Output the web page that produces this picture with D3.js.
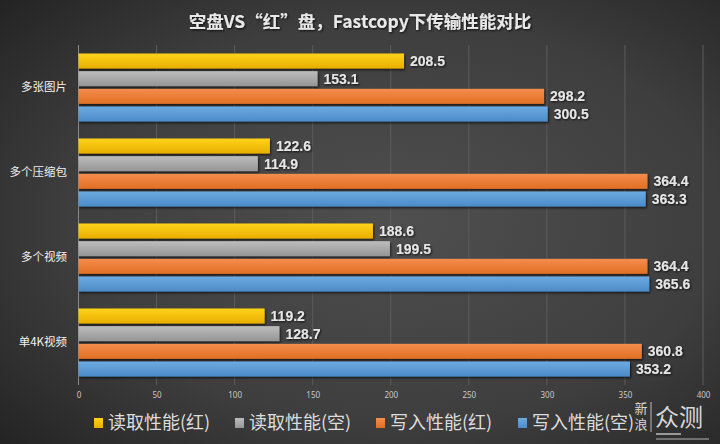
<!DOCTYPE html>
<html><head><meta charset="utf-8">
<script src="https://cdn.jsdelivr.net/npm/d3@7"></script>
<style>body{margin:0;background:#333;}svg{display:block;}</style>
</head><body>
<svg id="c" width="720" height="444"></svg>
<script>
const title = "空盘VS“红”盘，Fastcopy下传输性能对比";
const categories = ["多张图片", "多个压缩包", "多个视频", "单4K视频"];
const seriesNames = ["读取性能(红)", "读取性能(空)", "写入性能(红)", "写入性能(空)"];
const readRed = [208.5, 122.6, 188.6, 119.2];
const readEmpty = [153.1, 114.9, 199.5, 128.7];
const writeRed = [298.2, 364.4, 364.4, 360.8];
const writeEmpty = [300.5, 363.3, 365.6, 353.2];
const tickValues = [0, 50, 100, 150, 200, 250, 300, 350, 400];
const colors = ["#FFC000", "#A5A5A5", "#ED7D31", "#5B9BD5"];
const lightColors = ["#FFD31A", "#BDBDBD", "#F58D4E", "#6EAAE0"];
const darkColors = ["#E8AE00", "#959595", "#E06F22", "#4A8BC9"];

const series = [readRed, readEmpty, writeRed, writeEmpty];
const svg = d3.select("#c");
const W = 720, H = 444;
const defs = svg.append("defs");
const bg = defs.append("radialGradient").attr("id","bg").attr("cx","0.55").attr("cy","0.5").attr("r","0.75");
bg.append("stop").attr("offset","0").attr("stop-color","#4f4f4f");
bg.append("stop").attr("offset","0.6").attr("stop-color","#3e3e3e");
bg.append("stop").attr("offset","1").attr("stop-color","#232323");
svg.append("rect").attr("width",W).attr("height",H).attr("fill","url(#bg)");

colors.forEach((c,i)=>{
  const g = defs.append("linearGradient").attr("id","g"+i).attr("x1",0).attr("y1",0).attr("x2",0).attr("y2",1);
  g.append("stop").attr("offset","0").attr("stop-color",lightColors[i]);
  g.append("stop").attr("offset","1").attr("stop-color",darkColors[i]);
});
const sh = defs.append("filter").attr("id","sh").attr("x","-5%").attr("y","-30%").attr("width","110%").attr("height","170%");
sh.append("feDropShadow").attr("dx",1).attr("dy",1.5).attr("stdDeviation",0.8).attr("flood-color","#000").attr("flood-opacity",0.7);
const tsh = defs.append("filter").attr("id","tsh");
tsh.append("feDropShadow").attr("dx",1).attr("dy",1).attr("stdDeviation",0.8).attr("flood-color","#000").attr("flood-opacity",0.8);

const x = d3.scaleLinear().domain([0,400]).range([78.5, 703]);
const y = d3.scaleBand().domain(categories).range([45, 385]).paddingInner(0.2).paddingOuter(0.1);
const yi = d3.scaleBand().domain(d3.range(4)).range([0, y.bandwidth()]).paddingInner(0.15);

// grid
svg.append("g").selectAll("line").data(tickValues.slice(1)).join("line")
  .attr("x1",d=>x(d)).attr("x2",d=>x(d)).attr("y1",45).attr("y2",385)
  .attr("stroke","#5c5c5c").attr("stroke-width",1);

// x axis
const xa = svg.append("g").attr("transform","translate(0,392)")
  .call(d3.axisBottom(x).tickValues(tickValues).tickSize(0).tickPadding(0));
xa.select(".domain").remove();
xa.selectAll("text").attr("fill","#c8c8c8").attr("font-size",8).attr("font-family","Noto Sans, sans-serif").attr("dy","0.71em");

// y axis line
svg.append("line").attr("x1",x(0)).attr("x2",x(0)).attr("y1",45).attr("y2",385).attr("stroke","#8a8a8a").attr("stroke-width",1);

// category labels
const ya = svg.append("g").attr("transform",`translate(67,0)`)
  .call(d3.axisLeft(y).tickSize(0).tickPadding(0));
ya.select(".domain").remove();
ya.selectAll("text").attr("fill","#f0f0f0").attr("font-size",11.5).attr("font-family","Noto Sans CJK SC, sans-serif");

// bars
const groups = svg.append("g").selectAll("g").data(categories).join("g")
  .attr("transform",d=>`translate(0,${y(d)})`);
groups.each(function(cat, ci){
  const g = d3.select(this);
  series.forEach((s, si)=>{
    g.append("rect").attr("x",x(0)).attr("y",yi(si)).attr("width",x(s[ci])-x(0)).attr("height",yi.bandwidth())
      .attr("fill",`url(#g${si})`).attr("filter","url(#sh)");
    g.append("text").attr("x",x(s[ci])+6).attr("y",yi(si)+yi.bandwidth()/2).attr("dy","0.36em")
      .attr("fill","#e6e6e6").attr("font-size",14).attr("font-weight","bold")
      .attr("font-family","Liberation Sans, Noto Sans, sans-serif").attr("filter","url(#tsh)")
      .text(s[ci].toFixed(1));
  });
});

// title
svg.append("text").attr("x",360).attr("y",28).attr("text-anchor","middle")
  .attr("fill","#e8e8e8").attr("font-size",17.5).attr("font-weight","bold")
  .attr("font-family","Noto Sans CJK SC, sans-serif").attr("filter","url(#tsh)").text(title);

// legend
const legX = [94, 235, 376, 518];
const leg = svg.append("g").selectAll("g").data(seriesNames).join("g")
  .attr("transform",(d,i)=>`translate(${legX[i]},423)`);
leg.append("rect").attr("x",0).attr("y",-5).attr("width",9).attr("height",10).attr("fill",(d,i)=>`url(#g${i})`);
leg.append("text").attr("x",14).attr("dy","0.36em").attr("fill","#dcdcdc").attr("font-size",18)
  .attr("font-family","Noto Sans CJK SC, sans-serif").text(d=>d);

// watermark
const wm = svg.append("g").attr("fill","#d8d8d8").attr("font-family","Noto Sans CJK SC, sans-serif");
wm.append("text").attr("x",641).attr("y",402).attr("font-size",13).attr("writing-mode","vertical-rl")
  .attr("letter-spacing",3).text("新浪");
wm.append("line").attr("x1",651).attr("x2",651).attr("y1",402).attr("y2",432).attr("stroke","#bbb").attr("stroke-width",1);
wm.append("text").attr("x",655).attr("y",426).attr("font-size",24).text("众测");
wm.append("line").attr("x1",656).attr("x2",681).attr("y1",434).attr("y2",434).attr("stroke","#999").attr("stroke-width",2);
wm.append("line").attr("x1",656).attr("x2",709).attr("y1",439).attr("y2",439).attr("stroke","#888").attr("stroke-width",1.5);
</script>
</body></html>
